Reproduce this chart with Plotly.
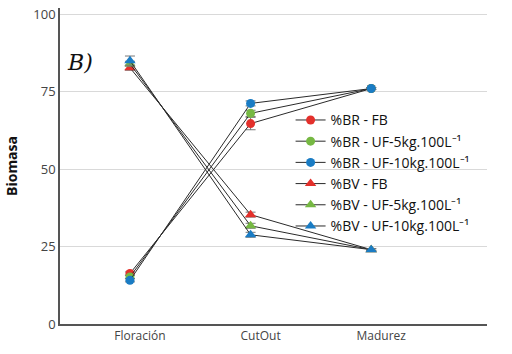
import plotly.graph_objects as go

stages = ["Floración", "CutOut", "Madurez"]

br_fb = [16.3, 64.7, 76.0]
br_uf5 = [15.2, 68.0, 76.0]
br_uf10 = [14.1, 71.2, 76.0]
bv_fb = [82.7, 35.3, 24.0]
bv_uf5 = [84.0, 31.7, 24.0]
bv_uf10 = [85.0, 28.8, 24.0]

err_br_fb = [0.5, 2.0, 0.3]
err_br_uf5 = [0.5, 1.0, 0.3]
err_br_uf10 = [0.5, 0.8, 0.3]
err_bv_fb = [0.8, 0.8, 0.3]
err_bv_uf5 = [0.8, 0.8, 0.3]
err_bv_uf10 = [1.5, 0.8, 0.3]

names = ["%BR - FB", "%BR - UF-5kg.100L⁻¹", "%BR - UF-10kg.100L⁻¹",
         "%BV - FB", "%BV - UF-5kg.100L⁻¹", "%BV - UF-10kg.100L⁻¹"]
series = [br_fb, br_uf5, br_uf10, bv_fb, bv_uf5, bv_uf10]
errs = [err_br_fb, err_br_uf5, err_br_uf10, err_bv_fb, err_bv_uf5, err_bv_uf10]
colors = ["#e3302b", "#76b843", "#1a7cc4", "#e3302b", "#76b843", "#1a7cc4"]
symbols = ["circle"] * 3 + ["triangle-up"] * 3

fig = go.Figure()
for name, ys, er, c, s in zip(names, series, errs, colors, symbols):
    fig.add_trace(go.Scatter(
        x=stages, y=ys, name=name, mode="lines+markers",
        line=dict(color="#2a2a2a", width=1),
        marker=dict(color=c, symbol=s, size=9 if s == "circle" else 10),
        error_y=dict(type="data", array=er, color="#777", thickness=1, width=5),
    ))

fig.add_annotation(text="<i>B)</i>", x=0.012, y=0.875, xref="paper", yref="paper",
                   showarrow=False, font=dict(family="DejaVu Serif, serif", size=22, color="#111"),
                   xanchor="left")

fig.update_layout(
    width=512, height=354,
    margin=dict(l=60, r=25, t=5, b=30),
    paper_bgcolor="white", plot_bgcolor="white",
    font=dict(family="Open Sans, sans-serif", color="#333"),
    legend=dict(x=0.54, y=0.695, xanchor="left", yanchor="top",
                bgcolor="rgba(0,0,0,0)", font=dict(size=14, color="#111"),
                tracegroupgap=0, itemwidth=30),
    showlegend=True,
)
fig.update_xaxes(type="category", range=[-0.58, 2.96], showgrid=False,
                 showline=True, linecolor="#555", linewidth=1.5,
                 ticks="", tickfont=dict(size=12, color="#444"), ticklabelshift=10)
fig.update_yaxes(range=[0, 102], tickvals=[0, 25, 50, 75, 100],
                 showgrid=True, gridcolor="#d9d9d9", gridwidth=1,
                 showline=True, linecolor="#555", linewidth=1.5, zeroline=False,
                 ticks="", tickfont=dict(size=13, color="#444"),
                 title=dict(text="<b>Biomasa</b>", font=dict(size=14, color="#111"), standoff=12))

fig.write_html("out.html")
